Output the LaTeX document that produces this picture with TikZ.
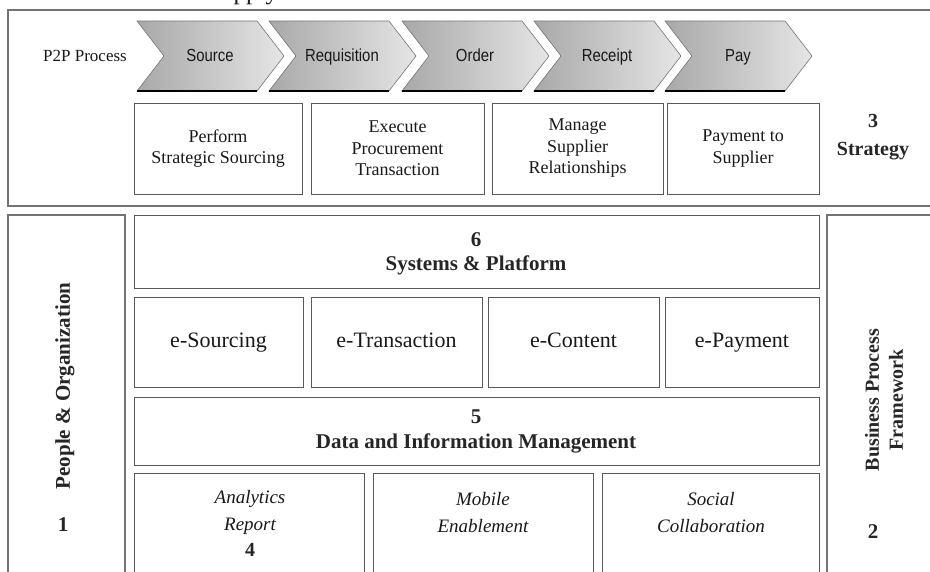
\documentclass[tikz,border=0pt]{standalone}
\usepackage{fontspec}
\setmainfont{Liberation Serif}
\newfontfamily\chevfont[FakeStretch=0.85]{Liberation Sans}
\begin{document}
\begin{tikzpicture}[x=1pt,y=-1pt,
  frame/.style={draw=black!55, line width=1.3pt},
  cell/.style={draw=black!65, line width=0.9pt, fill=white, inner sep=0pt,
    align=center, text=black!90, font=\fontsize{18}{21.5}\selectfont},
  bigcell/.style={cell, font=\fontsize{22}{26}\selectfont, text height=15pt, text depth=5pt},
  headcell/.style={cell, font=\bfseries\fontsize{21}{26}\selectfont, text=black!85},
  plain/.style={inner sep=0pt, align=center, text=black!90},
  boldlabel/.style={plain, font=\bfseries\fontsize{21}{25}\selectfont, text=black!85},
  itlabel/.style={plain, font=\itshape\fontsize{19}{27}\selectfont},
  chevtext/.style={plain, anchor=base, font=\chevfont\fontsize{17.5}{20}\selectfont, text=black!90},
  chevfill/.style={left color=black!34, right color=black!10},
  chevedge/.style={draw=black!55, line width=0.6pt},
  chevbase/.style={draw=black, line width=1.8pt}
]
\clip (0,0) rectangle (930,571);
\fill[white] (0,0) rectangle (930,571);

% heading running off the top edge
\node[plain, anchor=base west, font=\fontsize{25}{28}\selectfont] (heading) at (207,-1) {Supply};

% strategy band
\draw[frame] (8,10) rectangle (945,206);
\node[plain, font=\fontsize{17}{20}\selectfont] (p2p) at (85,56) {P2P Process};

% process chevrons
\foreach \x/\t/\n in {137/Source/src, 269/Requisition/req, 402/Order/ord, 534/Receipt/rec, 665/Pay/pay} {
  \shade[chevfill] (\x,21) -- ++(120,0) -- ++(27,35) -- ++(-27,35) -- ++(-120,0) -- ++(27,-35) -- cycle;
  \draw[chevedge] (\x,21) -- ++(120,0) -- ++(27,35) -- ++(-27,35) -- ++(-120,0) -- ++(27,-35) -- cycle;
  \draw[chevbase] (\x,91) -- ++(120,0);
  \node[chevtext] (\n) at (\x+73,61) {\t};
}

% strategy activities
\node[cell, minimum width=168pt, minimum height=91pt] (pss) at (218,148.5) {Perform\\Strategic Sourcing};
\node[cell, minimum width=173pt, minimum height=91pt] (ept) at (397.5,148.5) {Execute\\Procurement\\Transaction};
\node[cell, minimum width=171pt, minimum height=91pt] (msr) at (577.5,148.5) {Manage\\Supplier\\Relationships};
\node[cell, minimum width=152pt, minimum height=91pt] (pts) at (743,148.5) {Payment to\\Supplier};
\node[boldlabel, font=\bfseries\fontsize{20}{28}\selectfont] (strategy) at (873,137) {3\\Strategy};

% side columns
\draw[frame] (8,215) rectangle (125,610);
\draw[frame] (827,215) rectangle (945,610);
\node[boldlabel, rotate=90] (people) at (65,386) {People \& Organization};
\node[boldlabel] (one) at (63,525) {1};
\node[boldlabel, rotate=90, font=\bfseries\fontsize{20}{24}\selectfont] (bpf) at (884,400) {Business Process\\Framework};
\node[boldlabel] (two) at (873,532) {2};

% systems layer
\node[headcell, minimum width=685pt, minimum height=73pt] (sys) at (476.5,251.5) {};
\node[boldlabel] (six) at (476,240) {6};
\node[boldlabel] (systxt) at (476,265) {Systems \& Platform};

\node[bigcell, minimum width=169pt, minimum height=90pt] (esrc) at (218.5,342) {e-Sourcing};
\node[bigcell, minimum width=171pt, minimum height=90pt] (etrn) at (396.5,342) {e-Transaction};
\node[bigcell, minimum width=171pt, minimum height=90pt] (ecnt) at (573.5,342) {e-Content};
\node[bigcell, minimum width=154pt, minimum height=90pt] (epay) at (742,342) {e-Payment};

% data layer
\node[headcell, minimum width=685pt, minimum height=68pt] (data) at (476.5,431) {};
\node[boldlabel] (five) at (476,417) {5};
\node[boldlabel] (datatxt) at (476,443) {Data and Information Management};

% enablement layer
\node[cell, minimum width=230pt, minimum height=140pt] (ana) at (249,543) {};
\node[cell, minimum width=220pt, minimum height=140pt] (mob) at (483,543) {};
\node[cell, minimum width=217pt, minimum height=140pt] (soc) at (710.5,543) {};
\node[itlabel] (anatxt) at (250,512) {Analytics\\Report};
\node[boldlabel, font=\bfseries\fontsize{20}{24}\selectfont] (four) at (250,550) {4};
\node[itlabel] (mobtxt) at (483,512) {Mobile\\Enablement};
\node[itlabel] (soctxt) at (711,512) {Social\\Collaboration};
\end{tikzpicture}
\end{document}
